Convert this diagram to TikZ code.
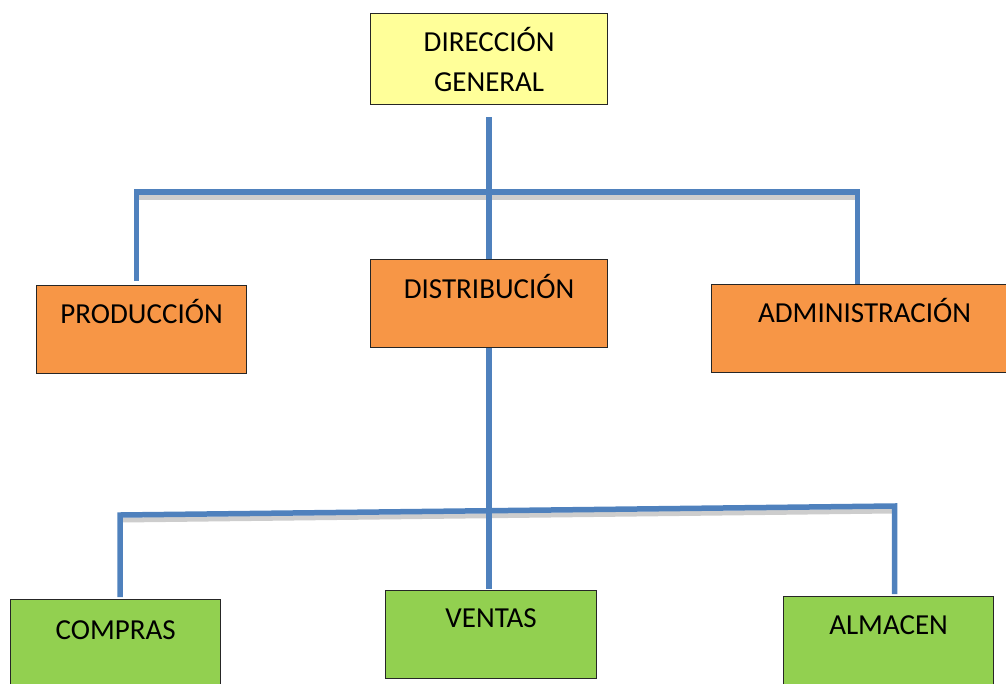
\documentclass[tikz,border=0pt]{standalone}
\usepackage{fontspec}
\setmainfont{Carlito}
\usetikzlibrary{calc}
\definecolor{wireblue}{HTML}{4F81BD}
\definecolor{wireshade}{HTML}{CDCDCD}
\definecolor{boxyellow}{HTML}{FFFF99}
\definecolor{boxorange}{HTML}{F79646}
\definecolor{boxgreen}{HTML}{92D050}
\definecolor{boxline}{HTML}{262626}
\tikzset{
  unit/.style={draw=boxline, line width=1.2pt, anchor=north west, inner xsep=0pt,
    inner ysep=0pt, minimum height=88pt, font=\fontsize{29}{40}\selectfont,
    text height=20pt},
  wire/.style={draw=wireblue, line width=5.5pt, line join=miter},
  shade/.style={draw=wireshade, line width=5pt},
}
\begin{document}
\begin{tikzpicture}[x=1pt,y=-1pt]
\useasboundingbox (0,0) rectangle (1006,683);
\clip (0,0) rectangle (1006,683);

% boxes
\node[unit, fill=boxyellow, minimum width=237pt, minimum height=91pt, align=center,
  text height=, text depth=, yshift=-1pt] (dir) at (370,12) {DIRECCIÓN\\GENERAL};
\node[unit, fill=boxorange, minimum width=210pt, text depth=33pt] (prod) at (36,285) {PRODUCCIÓN};
\node[unit, fill=boxorange, minimum width=237pt, text depth=30pt] (dist) at (370,259) {DISTRIBUCIÓN};
\node[unit, fill=boxorange, minimum width=306pt, text depth=32pt] (adm) at (711,284) {ADMINISTRACIÓN};
\node[unit, fill=boxgreen, minimum width=210pt, text depth=28pt] (comp) at (10,599) {COMPRAS};
\node[unit, fill=boxgreen, minimum width=211pt, text depth=34pt] (vent) at (385,590) {VENTAS};
\node[unit, fill=boxgreen, minimum width=210pt, text depth=32pt] (alm) at (783,596) {ALMACEN};

% bus junctions
\coordinate (b1w) at (136.5,192);
\coordinate (b1e) at (857.5,192);
\coordinate (b2w) at (120,515);
\coordinate (b2e) at (894.5,506);

% shading under the horizontal bars
\draw[shade] ($(b1w)+(2,5)$) -- ($(b1e)+(-2,5)$);
\draw[shade] ($(b2w)+(2,5)$) -- ($(b2e)+(-2,5)$);

% first level
\draw[wire] ($(dir.south)+(0,12)$) -- (dist.north);
\draw[wire] ($(prod.north -| b1w)+(0,-4)$) -- (b1w) -- (b1e) -- (adm.north -| b1e);

% second level
\draw[wire] (dist.south) -- ($(dist.south |- vent.north)+(0,-1)$);
\draw[wire] ($(comp.north -| b2w)+(0,-2)$) -- (b2w) -- (b2e) -- ($(alm.north -| b2e)+(0,-2)$);
\end{tikzpicture}
\end{document}
